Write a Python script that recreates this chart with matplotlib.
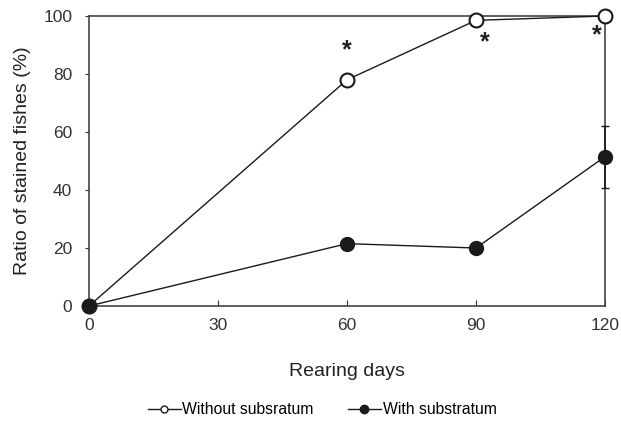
import matplotlib.pyplot as plt
from matplotlib.lines import Line2D

plt.rcParams['font.family'] = ['Liberation Sans', 'DejaVu Sans']

days = [0, 60, 90, 120]
without_sub = [0, 78, 98.5, 100]
with_sub = [0, 21.5, 20, 51.5]
with_sub_err = [0, 0.5, 1.5, 10.7]
star_x = [60, 92, 118]
star_y = [88, 91, 93.5]

fig = plt.figure(figsize=(6.21, 4.22), dpi=100)
ax = fig.add_axes([89 / 621, 116 / 422, 516 / 621, 290 / 422])

ax.plot(days, without_sub, color='#1a1a1a', lw=1, marker='o', ms=10,
        mfc='white', mec='#1a1a1a', mew=1.5, zorder=4, clip_on=False)
ax.errorbar(days, with_sub, yerr=with_sub_err, color='#1a1a1a', lw=1,
            marker='o', ms=10, mfc='#1a1a1a', mec='#1a1a1a', capsize=3,
            elinewidth=1.2, capthick=1, zorder=5, clip_on=False)

for x, y in zip(star_x, star_y):
    ax.text(x, y, '*', ha='center', va='center', fontsize=18, fontweight='bold',
            color='#222222')

ax.set_xlim(0, 120)
ax.set_ylim(0, 100)
ax.set_xticks([0, 30, 60, 90, 120])
ax.set_yticks([0, 20, 40, 60, 80, 100])
ax.tick_params(axis='y', direction='out', length=3, labelsize=12.5, colors='#333333', pad=9)
ax.tick_params(axis='x', direction='in', length=4, labelsize=12.5, colors='#333333', pad=9)
for s in ax.spines.values():
    s.set_color('#444444')
    s.set_linewidth(1.2)

ax.set_xlabel('Rearing days', fontsize=14, color='#222222', labelpad=21)
ax.set_ylabel('Ratio of stained fishes (%)', fontsize=14, color='#222222', labelpad=9)

handles = [
    Line2D([], [], color='#1a1a1a', lw=1, marker='o', ms=5, mfc='white', mec='#1a1a1a'),
    Line2D([], [], color='#1a1a1a', lw=1, marker='o', ms=6, mfc='#1a1a1a', mec='#1a1a1a'),
]
fig.legend(handles, ['Without subsratum', 'With substratum'], loc='center',
           bbox_to_anchor=(322 / 621, 1 - 410 / 422), ncol=2, frameon=False,
           fontsize=11.3, handlelength=2.1, handletextpad=0.1, columnspacing=2.2)

fig.savefig('out.png', dpi=100)
